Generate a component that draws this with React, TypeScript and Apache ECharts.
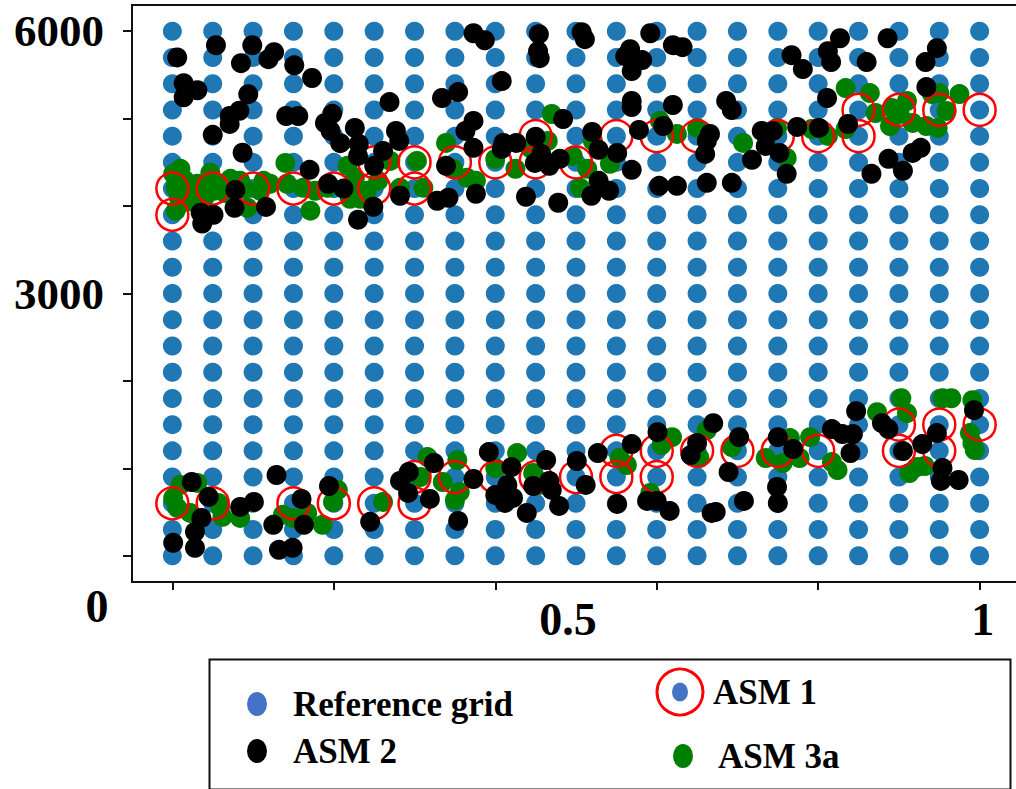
import React, { useEffect, useRef } from "react";
import * as echarts from "echarts";

// ---------- data ----------
const gridX = [0, 0.05, 0.1, 0.15, 0.2, 0.25, 0.3, 0.35, 0.4, 0.45, 0.5, 0.55, 0.6, 0.65, 0.7, 0.75, 0.8, 0.85, 0.9, 0.95, 1];
const gridY = [0, 300, 600, 900, 1200, 1500, 1800, 2100, 2400, 2700, 3000, 3300, 3600, 3900, 4200, 4500, 4800, 5100, 5400, 5700, 6000];

const asm1 = [
  [0, 4200], [0, 3900], [0.05, 4200], [0.1, 4200], [0.15, 4200], [0.2, 4200],
  [0.25, 4500], [0.25, 4200], [0.3, 4500], [0.3, 4200], [0.35, 4500], [0.4, 4500],
  [0.45, 4800], [0.45, 4500], [0.5, 4500], [0.55, 4800], [0.6, 4800], [0.65, 4800],
  [0.75, 4800], [0.8, 4800], [0.85, 5100], [0.85, 4800], [0.9, 5100], [0.95, 5100], [1, 5100],
  [0, 600], [0.05, 600], [0.15, 600], [0.2, 600], [0.25, 600], [0.3, 900], [0.3, 600],
  [0.35, 900], [0.4, 900], [0.45, 900], [0.5, 900], [0.55, 1200], [0.55, 900], [0.6, 1200],
  [0.6, 900], [0.65, 1200], [0.7, 1200], [0.75, 1200], [0.8, 1200], [0.9, 1500], [0.9, 1200],
  [0.95, 1500], [0.95, 1200], [1, 1500]
];

const asm2 = [
  [0.006, 5700], [0.054, 5840], [0.099, 5840], [0.126, 5760], [0.119, 5680], [0.085, 5635], [0.151, 5610],
  [0.173, 5465], [0.014, 5405], [0.031, 5325], [0.014, 5245], [0.094, 5280], [0.083, 5090], [0.071, 5030],
  [0.071, 4940], [0.141, 5030], [0.156, 5030], [0.198, 5055], [0.189, 4950], [0.196, 4860], [0.05, 4815],
  [0.087, 4610], [0.17, 4415], [0.193, 4255], [0.078, 4185], [0.077, 3980], [0.116, 3990], [0.035, 3925],
  [0.051, 3900], [0.037, 3800], [0.212, 4200], [0.23, 3845], [0.208, 4720],
  [0.373, 5977], [0.387, 5897], [0.454, 5966], [0.453, 5772], [0.455, 5692], [0.507, 5989], [0.511, 5909],
  [0.592, 5977], [0.62, 5840], [0.567, 5795], [0.561, 5715], [0.582, 5670], [0.569, 5544], [0.408, 5430],
  [0.354, 5304], [0.334, 5236], [0.269, 5190], [0.569, 5202],
  [0.373, 4974], [0.363, 4860], [0.226, 4894], [0.231, 4711], [0.23, 4574], [0.277, 4860], [0.281, 4745],
  [0.261, 4631], [0.25, 4460], [0.373, 4666], [0.41, 4722], [0.426, 4722], [0.408, 4654], [0.45, 4791],
  [0.484, 4996], [0.569, 5133], [0.62, 5156], [0.578, 4871], [0.608, 4916], [0.52, 4848], [0.528, 4643],
  [0.551, 4608], [0.457, 4597], [0.449, 4494], [0.467, 4460], [0.48, 4540], [0.569, 4415], [0.603, 4232],
  [0.625, 4232], [0.528, 4289], [0.541, 4175], [0.519, 4118], [0.478, 4038], [0.438, 4107], [0.376, 4141],
  [0.339, 4460], [0.342, 4095], [0.328, 4061], [0.282, 4118], [0.249, 3992],
  [0.632, 5818], [0.767, 5726], [0.781, 5567], [0.827, 5920], [0.812, 5772], [0.816, 5647], [0.86, 5647],
  [0.886, 5920], [0.947, 5806], [0.933, 5647], [0.934, 5361], [0.811, 5236], [0.686, 5202], [0.693, 5099],
  [0.73, 4860], [0.744, 4860], [0.735, 4688], [0.752, 4608], [0.774, 4905], [0.801, 4894], [0.837, 4939],
  [0.666, 4825], [0.662, 4745], [0.66, 4597], [0.718, 4529], [0.761, 4369], [0.866, 4369], [0.887, 4540],
  [0.905, 4403], [0.917, 4608], [0.927, 4666], [0.662, 4266], [0.693, 4266],
  [0.024, 844], [0.045, 673], [0.036, 433], [0.028, 274], [0.028, 91], [0.001, 148], [0.084, 559],
  [0.101, 616], [0.129, 924], [0.125, 354], [0.132, 68], [0.149, 91], [0.16, 650], [0.163, 354],
  [0.194, 798], [0.245, 388], [0.282, 856], [0.293, 958], [0.292, 719], [0.319, 650], [0.324, 1061],
  [0.354, 399], [0.373, 878], [0.392, 1186], [0.42, 1015], [0.4, 696], [0.415, 810], [0.412, 605],
  [0.422, 662], [0.439, 490], [0.447, 798], [0.463, 1095], [0.467, 856], [0.47, 753], [0.479, 570],
  [0.501, 1084], [0.512, 810], [0.527, 1175], [0.569, 1278], [0.601, 1414], [0.551, 593], [0.588, 627],
  [0.6, 627], [0.616, 513], [0.67, 1517], [0.65, 1289], [0.642, 1152], [0.702, 1357], [0.689, 958],
  [0.668, 490], [0.673, 502], [0.708, 627], [0.75, 1357], [0.769, 1220], [0.749, 787], [0.75, 605],
  [0.817, 1449], [0.83, 1392], [0.843, 1392], [0.84, 1175], [0.847, 1654], [0.879, 1517], [0.887, 1449],
  [0.905, 1198], [0.929, 1278], [0.947, 1403], [0.954, 1004], [0.952, 856], [0.974, 867], [0.993, 1665]
];

const asm3a = [
  [0.01, 4426], [0.001, 4369], [0.004, 4209], [0.01, 4027], [0.004, 3947], [0.02, 4141], [0.031, 4255],
  [0.047, 4380], [0.051, 4175], [0.059, 4255], [0.072, 4312], [0.084, 4289], [0.093, 3981], [0.09, 4198],
  [0.109, 4175], [0.121, 4255], [0.113, 4289], [0.14, 4494], [0.142, 4255], [0.162, 4209], [0.171, 3947],
  [0.177, 4175], [0.192, 4209], [0.217, 4460], [0.229, 4209], [0.233, 4084], [0.226, 4323], [0.22, 4084],
  [0.241, 4175], [0.255, 4289], [0.27, 4517], [0.282, 4209], [0.303, 4517], [0.311, 4209], [0.339, 4722],
  [0.348, 4426], [0.365, 4323], [0.376, 4289], [0.4, 4540], [0.425, 4426], [0.443, 4666], [0.465, 4745],
  [0.47, 5053], [0.496, 4574], [0.514, 4426], [0.505, 4209], [0.542, 4483], [0.521, 4745], [0.604, 4973],
  [0.625, 4825], [0.65, 4894], [0.707, 4722], [0.749, 4894], [0.761, 4551], [0.792, 4882], [0.812, 4802],
  [0.834, 4882], [0.834, 5350], [0.864, 5293], [0.871, 5065], [0.891, 5122], [0.901, 5053], [0.889, 4916],
  [0.91, 5202], [0.917, 4951], [0.934, 4916], [0.941, 5281], [0.95, 5293], [0.959, 5088], [0.948, 4894],
  [0.975, 5281], [0.015, 4300], [0.025, 4050], [0.04, 4100], [0.065, 4150], [0.008, 4100],
  [0.01, 810], [0.001, 662], [0.006, 548], [0.022, 490], [0.031, 833], [0.057, 605], [0.059, 559],
  [0.062, 445], [0.084, 433], [0.137, 468], [0.149, 433], [0.167, 490], [0.186, 354], [0.199, 616],
  [0.205, 753], [0.261, 616], [0.316, 1129], [0.307, 901], [0.335, 844], [0.353, 1095], [0.356, 730],
  [0.35, 639], [0.4, 1004], [0.427, 1175], [0.447, 947], [0.455, 810], [0.554, 1118], [0.563, 1038],
  [0.619, 1357], [0.606, 1266], [0.592, 719], [0.662, 1437], [0.653, 1118], [0.693, 1243], [0.735, 1118],
  [0.756, 1061], [0.765, 1346], [0.777, 1118], [0.79, 1357], [0.817, 1072], [0.824, 981], [0.873, 1643],
  [0.903, 1802], [0.91, 1631], [0.913, 947], [0.922, 1015], [0.932, 1027], [0.954, 1802], [0.965, 1802],
  [0.991, 1780], [0.988, 1403], [0.991, 1289], [0.994, 1209]
];

const xTicks = [0, 0.2, 0.4, 0.6, 0.8, 1];
const xLabels = [0.5, 1];
const yTicks = [0, 1000, 2000, 3000, 4000, 5000, 6000];
const yLabels = [3000, 6000];
const cornerLabel = "0";

const seriesNames = ["Reference grid", "ASM 1", "ASM 2", "ASM 3a"];

const FONT = "'Liberation Serif', 'Times New Roman', serif";
const ELLIPSE = "path://M0,12 A10,12 0 1,1 20,12 A10,12 0 1,1 0,12 Z";

export default function App() {
  const ref = useRef<HTMLDivElement>(null);

  useEffect(() => {
    if (!ref.current) return;
    const chart = echarts.init(ref.current, undefined, { renderer: "svg" });

    const refGrid: number[][] = [];
    for (const gx of gridX) for (const gy of gridY) refGrid.push([gx, gy]);

    const legendText = {
      fontFamily: FONT,
      fontWeight: "bold",
      fontSize: 35,
      color: "#000",
      lineHeight: 40,
    };

    const option: any = {
      animation: false,
      backgroundColor: "#fff",
      grid: {
        left: 132,
        right: -4,
        top: 5,
        bottom: 207,
        show: true,
        borderColor: "#111",
        borderWidth: 2,
        containLabel: false,
        outerBoundsMode: "none",
      },
      xAxis: {
        type: "value",
        min: -0.05,
        max: 1.05,
        splitLine: { show: false },
        axisLine: { show: true, onZero: false, lineStyle: { color: "#111", width: 2 } },
        axisTick: { show: true, customValues: xTicks, length: 8, lineStyle: { color: "#111", width: 2 } },
        axisLabel: {
          customValues: xLabels,
          formatter: (v: number) => (v === 1 ? "{r|" + v + "}" : "{l|" + v + "}"),
          margin: 14,
          fontFamily: FONT,
          fontWeight: "bold",
          fontSize: 46,
          color: "#000",
          rich: {
            l: { fontFamily: FONT, fontWeight: "bold", fontSize: 46, color: "#000", padding: [0, 16, 0, 0] },
            r: { fontFamily: FONT, fontWeight: "bold", fontSize: 46, color: "#000", padding: [0, 0, 0, 6] },
          },
        },
      },
      yAxis: {
        type: "value",
        min: -300,
        max: 6300,
        splitLine: { show: false },
        axisLine: { show: true, onZero: false, lineStyle: { color: "#111", width: 2 } },
        axisTick: { show: true, customValues: yTicks, length: 9, lineStyle: { color: "#111", width: 2 } },
        axisLabel: {
          customValues: yLabels,
          formatter: (v: number) => String(v),
          margin: 28,
          fontFamily: FONT,
          fontWeight: "bold",
          fontSize: 45,
          color: "#000",
        },
      },
      legend: [
        {
          left: 247, top: 684, padding: 0, itemWidth: 20, itemHeight: 24,
          data: [{ name: seriesNames[0], icon: ELLIPSE, itemStyle: { color: "#4472c4", opacity: 1 } }],
          textStyle: { ...legendText, padding: [0, 0, 0, 21] }, selectedMode: false,
        },
        {
          left: 247, top: 731, padding: 0, itemWidth: 20, itemHeight: 24,
          data: [{ name: seriesNames[2], icon: ELLIPSE, itemStyle: { color: "#000", opacity: 1 } }],
          textStyle: { ...legendText, padding: [0, 0, 0, 21] }, selectedMode: false,
        },
        {
          left: 672, top: 672, padding: 0, itemWidth: 16, itemHeight: 20,
          data: [{ name: seriesNames[1], icon: ELLIPSE, itemStyle: { color: "#4472c4", borderWidth: 0, opacity: 1 } }],
          textStyle: { ...legendText, padding: [0, 0, 0, 20] }, selectedMode: false,
        },
        {
          left: 673, top: 736, padding: 0, itemWidth: 20, itemHeight: 24,
          data: [{ name: seriesNames[3], icon: ELLIPSE, itemStyle: { color: "#008000", opacity: 1 } }],
          textStyle: { ...legendText, padding: [0, 0, 0, 20] }, selectedMode: false,
        },
      ],
      graphic: [
        {
          type: "rect", left: 207, top: 657, z: 0,
          shape: { width: 801, height: 130 },
          style: { fill: "none", stroke: "#111", lineWidth: 2 },
        },
        {
          type: "circle", x: 680, y: 692, z: 10,
          shape: { r: 23 },
          style: { fill: "none", stroke: "#ff0000", lineWidth: 3 },
        },
        {
          type: "text", x: 97, y: 606, z: 10,
          style: {
            text: cornerLabel, fontFamily: FONT, fontWeight: "bold", fontSize: 46,
            fill: "#000", align: "center", verticalAlign: "middle",
          },
        },
      ],
      series: [
        {
          name: seriesNames[0], type: "scatter", data: refGrid, symbol: "circle", symbolSize: 19,
          itemStyle: { color: "#1f77b4", opacity: 1 }, z: 1,
        },
        {
          name: seriesNames[3], type: "scatter", data: asm3a, symbol: "circle", symbolSize: 20,
          itemStyle: { color: "#008000", opacity: 1 }, z: 2,
        },
        {
          name: seriesNames[1], type: "scatter", data: asm1, symbol: "circle", symbolSize: 32,
          itemStyle: { color: "rgba(0,0,0,0)", borderColor: "#ff0000", borderWidth: 2.5, opacity: 1 }, z: 3,
        },
        {
          name: seriesNames[2], type: "scatter", data: asm2, symbol: "circle", symbolSize: 20,
          itemStyle: { color: "#000", opacity: 1 }, z: 4,
        },
      ],
    };

    chart.setOption(option);
    return () => chart.dispose();
  }, []);

  return (
    <div
      ref={ref}
      style={{ position: "absolute", left: 0, top: 0, width: 1016, height: 789 }}
    />
  );
}
